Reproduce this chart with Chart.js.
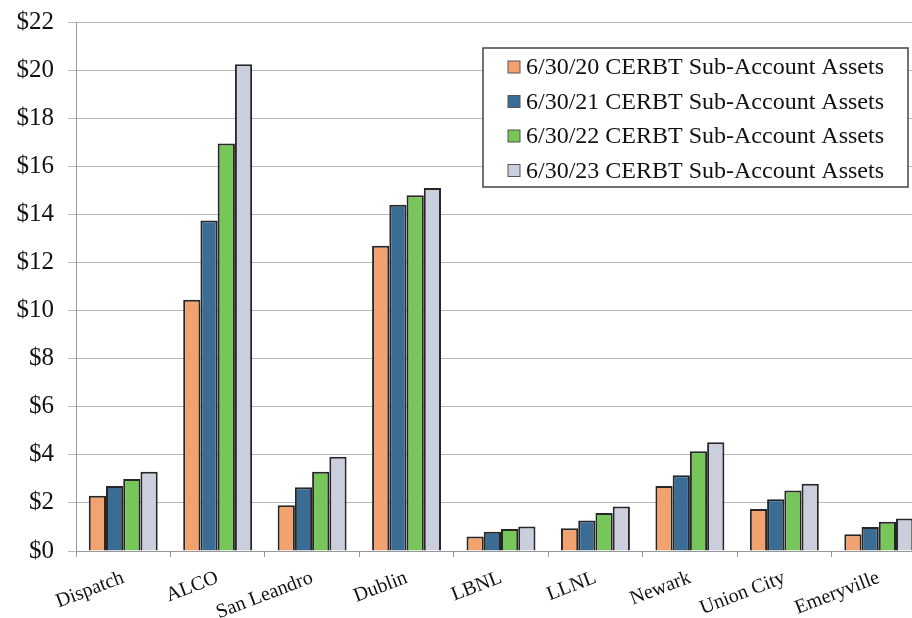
<!DOCTYPE html>
<html>
<head>
<meta charset="utf-8">
<script src="https://cdn.jsdelivr.net/npm/chart.js@4/dist/chart.umd.min.js"></script>
<style>
html, body { margin: 0; padding: 0; background: #fff; overflow: hidden; width: 912px; height: 618px; }
</style>
</head>
<body>
<canvas id="graph1" width="926" height="618"></canvas>
<script>
var categories = ['Dispatch', 'ALCO', 'San Leandro', 'Dublin', 'LBNL', 'LLNL', 'Newark', 'Union City', 'Emeryville'];
var seriesNames = ['6/30/20 CERBT Sub-Account Assets', '6/30/21 CERBT Sub-Account Assets', '6/30/22 CERBT Sub-Account Assets', '6/30/23 CERBT Sub-Account Assets'];
var assets2020 = [2.3, 10.45, 1.9, 12.7, 0.6, 0.95, 2.7, 1.75, 0.7];
var assets2021 = [2.7, 13.75, 2.65, 14.4, 0.8, 1.27, 3.15, 2.15, 1.0];
var assets2022 = [3.0, 16.95, 3.3, 14.8, 0.92, 1.58, 4.15, 2.52, 1.22];
var assets2023 = [3.3, 20.25, 3.92, 15.1, 1.02, 1.85, 4.52, 2.8, 1.35];
var yTicks = [0, 2, 4, 6, 8, 10, 12, 14, 16, 18, 20, 22];

var colors = ['#F2A26E', '#3B6C94', '#76C65A', '#CBCEDD'];
var serif = '"Liberation Serif", "DejaVu Serif", serif';

var ctx = document.getElementById("graph1").getContext("2d");

var data = {
    labels: categories,
    datasets: [assets2020, assets2021, assets2022, assets2023].map(function (vals, i) {
        return {
            label: seriesNames[i],
            data: vals,
            backgroundColor: colors[i],
            borderColor: '#262626',
            borderWidth: 2,
            borderSkipped: 'bottom'
        };
    })
};

// legend box drawn inside the plot, top right
var boxLegend = {
    id: 'boxLegend',
    afterDraw: function (chart) {
        var c = chart.ctx;
        var x = 483, y = 48, w = 425, h = 139;
        c.save();
        c.fillStyle = '#fff';
        c.fillRect(x, y, w, h);
        c.strokeStyle = '#444';
        c.lineWidth = 1.5;
        c.strokeRect(x, y, w, h);
        c.font = '24px ' + serif;
        c.textBaseline = 'middle';
        chart.data.datasets.forEach(function (ds, i) {
            var cy = 67 + i * 34.5;
            c.fillStyle = ds.backgroundColor;
            c.fillRect(508, cy - 6, 12, 12);
            c.strokeStyle = '#555';
            c.lineWidth = 1;
            c.strokeRect(508, cy - 6, 12, 12);
            c.fillStyle = '#111';
            c.fillText(ds.label, 526, cy + 1, 364);
        });
        c.restore();
    }
};

var config = {
    type: 'bar',
    data: data,
    options: {
        responsive: false,
        animation: false,
        barPercentage: 1,
        categoryPercentage: 0.73,
        layout: { padding: { top: 0, right: 0, left: 0, bottom: 0 } },
        plugins: {
            legend: { display: false },
            tooltip: { enabled: false }
        },
        scales: {
            x: {
                grid: {
                    drawOnChartArea: false,
                    drawTicks: true,
                    tickLength: 6,
                    color: '#999'
                },
                border: { color: '#999', width: 1 },
                ticks: {
                    color: '#111',
                    font: { family: serif, size: 20 },
                    minRotation: 21,
                    maxRotation: 21,
                    autoSkip: false,
                    padding: 9
                },
                afterFit: function (scale) { scale.height = 67; }
            },
            y: {
                min: 0,
                max: 22,
                afterBuildTicks: function (scale) {
                    scale.ticks = yTicks.map(function (v) { return { value: v }; });
                },
                grid: {
                    color: '#b8b8b8',
                    lineWidth: 1,
                    tickLength: 8
                },
                border: { color: '#999', width: 1 },
                ticks: {
                    color: '#111',
                    font: { family: serif, size: 25, lineHeight: 0.65 },
                    padding: 14,
                    callback: function (v) { return '$' + v; }
                },
                afterFit: function (scale) { scale.width = 76; }
            }
        }
    },
    plugins: [boxLegend]
};

var graph1 = new Chart(ctx, config);
</script>
</body>
</html>
